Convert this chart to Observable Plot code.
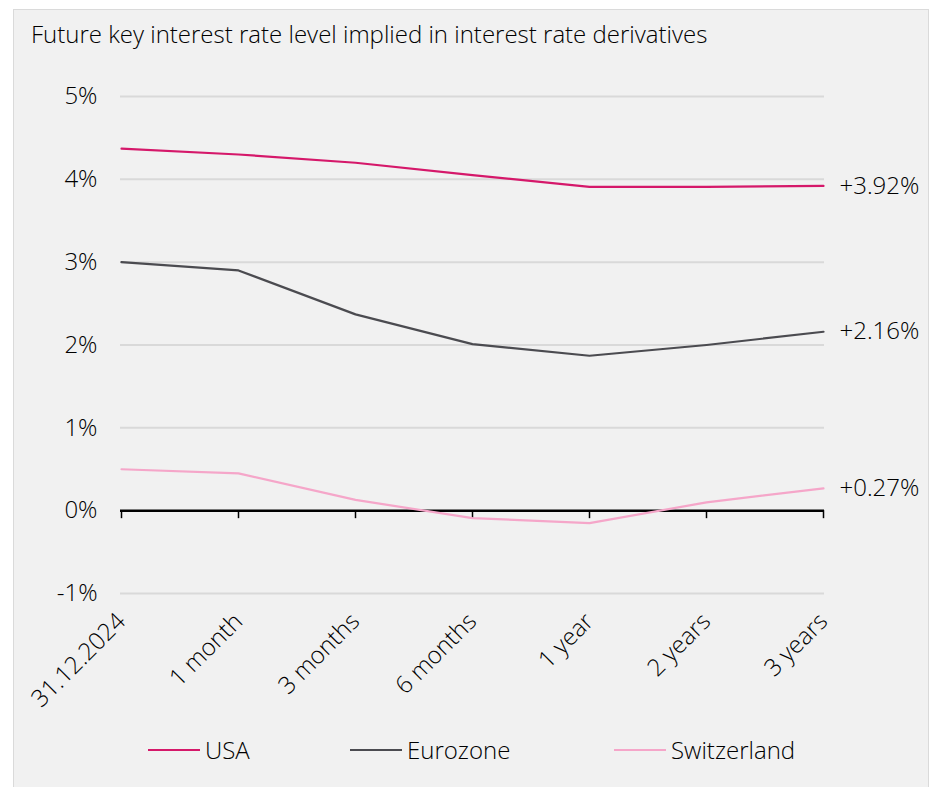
<!DOCTYPE html>
<html>
<head>
<meta charset="utf-8">
<script src="https://cdn.jsdelivr.net/npm/d3@7"></script>
<script src="https://cdn.jsdelivr.net/npm/@observablehq/plot@0.6"></script>
<style>
  html, body { margin: 0; padding: 0; background: #ffffff; width: 938px; height: 787px; overflow: hidden; font-family: "Open Sans", Lato, sans-serif; font-weight: 300; color: #000000; }
  #panel { position: absolute; left: 13px; top: 9px; width: 914px; height: 790px; background: #f1f1f1; border: 1px solid #dadada; }
  #title { position: absolute; left: 31px; top: 19px; font-size: 24px; line-height: 30px; white-space: nowrap; }
  #chart { position: absolute; left: 0; top: 60px; }
  #chart svg text { font-weight: 300; }
  .leg { position: absolute; top: 735px; font-size: 24px; line-height: 30px; display: flex; align-items: center; }
  .sw { display: inline-block; width: 52px; height: 2.5px; margin-right: 5px; }
</style>
</head>
<body>
<div id="panel"></div>
<div id="title">Future key interest rate level implied in interest rate derivatives</div>
<div id="chart"></div>
<div id="legend"></div>
<script>
const categories = ["31.12.2024", "1 month", "3 months", "6 months", "1 year", "2 years", "3 years"];
const usa = [4.37, 4.30, 4.20, 4.05, 3.91, 3.91, 3.92];
const eurozone = [3.00, 2.90, 2.37, 2.01, 1.87, 2.00, 2.16];
const switzerland = [0.50, 0.45, 0.13, -0.09, -0.15, 0.10, 0.27];
const seriesNames = ["USA", "Eurozone", "Switzerland"];
const seriesColors = ["#d5186a", "#4b4b50", "#f5a6c9"];
const yTicks = [-1, 0, 1, 2, 3, 4, 5];
const endLabels = ["+3.92%", "+2.16%", "+0.27%"];

const seriesValues = [usa, eurozone, switzerland];
const data = seriesNames.flatMap((s, si) => categories.map((c, i) => ({series: s, cat: c, value: seriesValues[si][i]})));
const last = seriesNames.map((s, si) => ({series: s, cat: categories[categories.length - 1], value: seriesValues[si][categories.length - 1], label: endLabels[si]}));

const chart = Plot.plot({
  width: 938,
  height: 660,
  marginTop: 36,
  marginBottom: 127,
  marginLeft: 120,
  marginRight: 114,
  style: {background: "transparent", fontFamily: "'Open Sans', Lato, sans-serif", color: "#000000", overflow: "visible"},
  x: {type: "point", domain: categories, padding: 0, label: null},
  y: {domain: [-1, 5], label: null},
  color: {domain: seriesNames, range: seriesColors},
  marks: [
    Plot.ruleY(yTicks.filter(d => d !== 0), {stroke: "#d9d9d9", strokeWidth: 2}),
    Plot.axisY({ticks: yTicks, tickSize: 0, tickPadding: 23, fontSize: 24, tickFormat: d => d + "%", label: null}),
    Plot.axisX({anchor: "bottom", tickSize: 0, tickPadding: 24, tickRotate: -45, fontSize: 24, label: null}),
    Plot.ruleY([0], {stroke: "#000000", strokeWidth: 2.5}),
    Plot.ruleX(categories, {x: d => d, y1: 0, y2: 0, insetBottom: -8, stroke: "#000000", strokeWidth: 1.5}),
    Plot.line(data, {x: "cat", y: "value", z: "series", stroke: "series", strokeWidth: 2.2}),
    Plot.text(last, {x: "cat", y: "value", text: "label", dx: 16, textAnchor: "start", fontSize: 24, fill: "#000000"})
  ]
});
document.getElementById("chart").appendChild(chart);

const legendPos = [148, 350, 614];
const legend = document.getElementById("legend");
seriesNames.forEach((s, i) => {
  const d = document.createElement("div");
  d.className = "leg";
  d.style.left = legendPos[i] + "px";
  const sw = document.createElement("span");
  sw.className = "sw";
  sw.style.background = seriesColors[i];
  d.appendChild(sw);
  d.appendChild(document.createTextNode(s));
  legend.appendChild(d);
});
</script>
</body>
</html>
